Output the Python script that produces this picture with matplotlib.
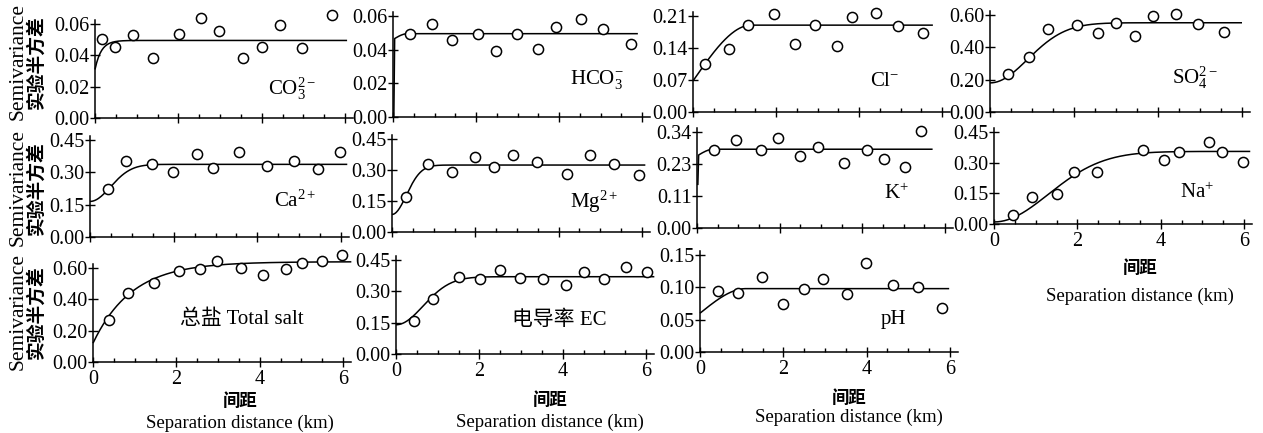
import numpy as np
import matplotlib
matplotlib.use("Agg")
import matplotlib.pyplot as plt

plt.rcParams['font.family'] = ['Liberation Serif', 'Noto Sans CJK SC', 'DejaVu Sans']
plt.rcParams['mathtext.fontset'] = 'custom'
plt.rcParams['mathtext.rm'] = 'Liberation Serif'
plt.rcParams['mathtext.it'] = 'Liberation Serif:italic'
plt.rcParams['mathtext.bf'] = 'Liberation Serif:bold'

# ---------------- data (lag km, semivariance) ----------------
co3_lag = [0.16, 0.48, 0.90, 1.40, 2.02, 2.54, 2.98, 3.54, 4.00, 4.44, 4.96, 5.69]
co3_gam = [0.0505, 0.0456, 0.0530, 0.0380, 0.0534, 0.0640, 0.0555, 0.0386, 0.0452, 0.0594, 0.0445, 0.0657]
hco3_lag = [0.40, 0.93, 1.43, 2.05, 2.47, 2.98, 3.50, 3.93, 4.53, 5.06, 5.74]
hco3_gam = [0.0491, 0.0550, 0.0455, 0.0491, 0.0392, 0.0491, 0.0406, 0.0535, 0.0580, 0.0521, 0.0436]
cl_lag = [0.30, 0.87, 1.33, 1.95, 2.46, 2.95, 3.46, 3.82, 4.40, 4.93, 5.54]
cl_gam = [0.104, 0.138, 0.190, 0.215, 0.148, 0.190, 0.145, 0.208, 0.216, 0.188, 0.172]
so4_lag = [0.44, 0.92, 1.38, 2.08, 2.58, 3.00, 3.46, 3.88, 4.44, 4.96, 5.58]
so4_gam = [0.234, 0.341, 0.511, 0.538, 0.490, 0.548, 0.470, 0.596, 0.606, 0.544, 0.497]
ca_lag = [0.44, 0.86, 1.48, 1.98, 2.56, 2.94, 3.56, 4.22, 4.88, 5.46, 5.98]
ca_gam = [0.222, 0.354, 0.337, 0.303, 0.385, 0.318, 0.393, 0.331, 0.354, 0.315, 0.396]
mg_lag = [0.34, 0.86, 1.44, 1.98, 2.44, 2.90, 3.48, 4.20, 4.74, 5.34, 5.92]
mg_gam = [0.167, 0.328, 0.291, 0.364, 0.316, 0.372, 0.337, 0.283, 0.375, 0.328, 0.278]
k_lag = [0.42, 0.95, 1.54, 1.97, 2.49, 2.92, 3.56, 4.11, 4.52, 5.04, 5.41]
k_gam = [0.278, 0.311, 0.276, 0.317, 0.256, 0.287, 0.231, 0.278, 0.246, 0.217, 0.344]
na_lag = [0.46, 0.92, 1.50, 1.92, 2.46, 3.58, 4.07, 4.44, 5.16, 5.46, 5.98]
na_gam = [0.042, 0.134, 0.146, 0.252, 0.252, 0.361, 0.312, 0.353, 0.401, 0.353, 0.304]
ts_lag = [0.38, 0.84, 1.46, 2.06, 2.56, 2.98, 3.54, 4.08, 4.62, 5.02, 5.50, 5.98]
ts_gam = [0.268, 0.438, 0.505, 0.579, 0.596, 0.643, 0.600, 0.554, 0.592, 0.634, 0.645, 0.681]
ec_lag = [0.43, 0.88, 1.50, 2.02, 2.50, 2.98, 3.52, 4.08, 4.50, 5.00, 5.52, 6.03]
ec_gam = [0.159, 0.264, 0.367, 0.358, 0.402, 0.366, 0.359, 0.331, 0.394, 0.359, 0.418, 0.391]
ph_lag = [0.42, 0.90, 1.48, 2.00, 2.50, 2.94, 3.52, 3.98, 4.64, 5.24, 5.80]
ph_gam = [0.0947, 0.0905, 0.1153, 0.0735, 0.0967, 0.1123, 0.0895, 0.1370, 0.1035, 0.0998, 0.0688]

# fitted model parameters: (model, nugget, partial sill, range, curve end km, start point or None)
co3_model = ('exp', 0.031, 0.0185, 0.45, 6.05, None)
hco3_model = ('sph', 0.046, 0.0035, 0.35, 5.90, 0.0)
cl_model = ('sph', 0.068, 0.122, 1.40, 5.78, None)
so4_model = ('gau', 0.180, 0.372, 2.20, 6.00, None)
ca_model = ('gau', 0.165, 0.172, 1.20, 6.15, None)
mg_model = ('gau', 0.085, 0.239, 0.85, 6.08, None)
k_model = ('sph', 0.255, 0.024, 0.40, 5.70, 0.152)
na_model = ('gau', 0.010, 0.345, 3.20, 6.15, None)
ts_model = ('exp', 0.120, 0.520, 2.80, 6.20, None)
ec_model = ('gau', 0.140, 0.230, 1.60, 6.20, None)
ph_model = ('sph', 0.060, 0.038, 1.10, 5.98, None)

# y tick labels (ticks at thirds of the top value)
co3_yt = ["0.00", "0.02", "0.04", "0.06"]
hco3_yt = ["0.00", "0.02", "0.04", "0.06"]
cl_yt = ["0.00", "0.07", "0.14", "0.21"]
so4_yt = ["0.00", "0.20", "0.40", "0.60"]
ca_yt = ["0.00", "0.15", "0.30", "0.45"]
mg_yt = ["0.00", "0.15", "0.30", "0.45"]
k_yt = ["0.00", "0.11", "0.23", "0.34"]
na_yt = ["0.00", "0.15", "0.30", "0.45"]
ts_yt = ["0.00", "0.20", "0.40", "0.60"]
ec_yt = ["0.00", "0.15", "0.30", "0.45"]
ph_yt = ["0.00", "0.05", "0.10", "0.15"]
ymax_vals = {'co3': 0.06, 'hco3': 0.06, 'cl': 0.21, 'so4': 0.60, 'ca': 0.45, 'mg': 0.45,
             'k': 0.34, 'na': 0.45, 'ts': 0.60, 'ec': 0.45, 'ph': 0.15}
x_ticks = [0, 2, 4, 6]
x_ticklabels = ["0", "2", "4", "6"]

labels = {'co3': r'CO$_3^{2-}$', 'hco3': r'HCO$_3^{-}$', 'cl': r'Cl$^{-}$', 'so4': r'SO$_4^{2-}$',
          'ca': r'Ca$^{2+}$', 'mg': r'Mg$^{2+}$', 'k': r'K$^{+}$', 'na': r'Na$^{+}$',
          'ts': '总盐 Total salt', 'ec': '电导率 EC', 'ph': 'pH'}

# ---------------- layout (pixels in a 1263x433 figure) ----------------
W, H = 1263, 433
fig = plt.figure(figsize=(W / 100, H / 100), dpi=100)

# key: (left px, bottom px, top-tick px, x=6 px, label x, label y, x-title offsets or None)
layout = {
    'co3': (95, 118, 24, 345, 4.15, 0.019, None),
    'hco3': (393, 117, 16, 642, 4.27, 0.022, None),
    'cl': (693, 112, 16, 942, 4.27, 0.066, None),
    'so4': (990, 112, 15, 1242, 4.33, 0.21, None),
    'ca': (90, 237, 140, 341, 4.39, 0.167, None),
    'mg': (392, 232, 139, 642, 4.27, 0.145, None),
    'k': (697, 228, 132, 945, 4.52, 0.12, None),
    'na': (994, 224, 132, 1244, 4.46, 0.152, (1140, 44, 72)),
    'ts': (93, 362, 268, 343, 3.57, 0.274, (240, 39, 61)),
    'ec': (396, 354, 260, 646, 3.92, 0.163, (550, 46, 68)),
    'ph': (700, 352, 255, 950, 4.33, 0.051, (849, 46, 65)),
}

series = {
    'co3': (co3_lag, co3_gam, co3_model, co3_yt),
    'hco3': (hco3_lag, hco3_gam, hco3_model, hco3_yt),
    'cl': (cl_lag, cl_gam, cl_model, cl_yt),
    'so4': (so4_lag, so4_gam, so4_model, so4_yt),
    'ca': (ca_lag, ca_gam, ca_model, ca_yt),
    'mg': (mg_lag, mg_gam, mg_model, mg_yt),
    'k': (k_lag, k_gam, k_model, k_yt),
    'na': (na_lag, na_gam, na_model, na_yt),
    'ts': (ts_lag, ts_gam, ts_model, ts_yt),
    'ec': (ec_lag, ec_gam, ec_model, ec_yt),
    'ph': (ph_lag, ph_gam, ph_model, ph_yt),
}


def model_curve(kind, c0, c, a, h):
    if kind == 'sph':
        r = np.minimum(h / a, 1.0)
        return c0 + c * (1.5 * r - 0.5 * r ** 3)
    if kind == 'exp':
        return c0 + c * (1 - np.exp(-3 * h / a))
    return c0 + c * (1 - np.exp(-3 * h ** 2 / a ** 2))


XMAX = 6.2
TICK_FS = 14.5
for key, (lag, gam, mdl, ytl) in series.items():
    left, bottom, top, x6, lx, ly, xtitle = layout[key]
    ymax = ymax_vals[key]
    ppk = (x6 - left) / 6.0
    w = XMAX * ppk
    yhi = ymax * 1.04
    h = (bottom - top) * 1.04
    ax = fig.add_axes([left / W, 1 - bottom / H, w / W, h / H])
    ax.set_xlim(0, XMAX)
    ax.set_ylim(0, yhi)
    for s in ('top', 'right'):
        ax.spines[s].set_visible(False)
    for s in ('left', 'bottom'):
        ax.spines[s].set_linewidth(1.1)
    ax.patch.set_alpha(0)

    kind, c0, c, a, xend, start = mdl
    if start is None:
        hh = np.linspace(0, xend, 300)
        yy = model_curve(kind, c0, c, a, hh)
    else:
        hh0 = np.linspace(0.04, xend, 300)
        hh = np.concatenate([[0.02], hh0])
        yy = np.concatenate([[start], model_curve(kind, c0, c, a, hh0)])
    ax.plot(hh, yy, color='black', lw=1.1, zorder=2, clip_on=False,
            solid_capstyle='butt')
    ax.plot(lag, gam, 'o', ms=7.3, mfc='white', mec='black', mew=1.1,
            zorder=3, clip_on=False)

    yt = [ymax * i / 3 for i in range(4)]
    ax.set_yticks(yt)
    ax.set_yticklabels(ytl, fontsize=TICK_FS)
    ax.set_xticks(x_ticks)
    ax.set_xticks([0.5, 1, 1.5, 2.5, 3, 3.5, 4.5, 5, 5.5], minor=True)
    ax.set_xticklabels(x_ticklabels, fontsize=TICK_FS)
    ax.tick_params(axis='y', direction='inout', length=7, width=1.0, pad=0.5)
    ax.tick_params(axis='x', which='major', direction='inout', length=7, width=1.0,
                   pad=2.5, labelbottom=xtitle is not None)
    ax.tick_params(axis='x', which='minor', direction='in', length=3, width=1.0)

    ax.text(lx, ly, labels[key], fontsize=15, ha='left' if key not in ('ts', 'ec') else 'center',
            va='center')

    if xtitle is not None:
        cx, off1, off2 = xtitle
        fig.text(cx / W, 1 - (bottom + off1) / H, '间距', fontsize=12.5, ha='center',
                 va='center', family=['Noto Sans CJK SC'], weight='bold')
        fig.text(cx / W, 1 - (bottom + off2) / H, 'Separation distance (km)', fontsize=13.5,
                 ha='center', va='center')

# y-axis titles for each row
for yc in (62, 188, 312):
    fig.text(18 / W, 1 - yc / H, 'Semivariance', rotation=90, fontsize=15.5,
             ha='center', va='center')
    fig.text(36 / W, 1 - yc / H, '实验半方差', rotation=90, fontsize=13.5,
             ha='center', va='center', family=['Noto Sans CJK SC'], weight='bold')

fig.savefig('out.png', dpi=100)
